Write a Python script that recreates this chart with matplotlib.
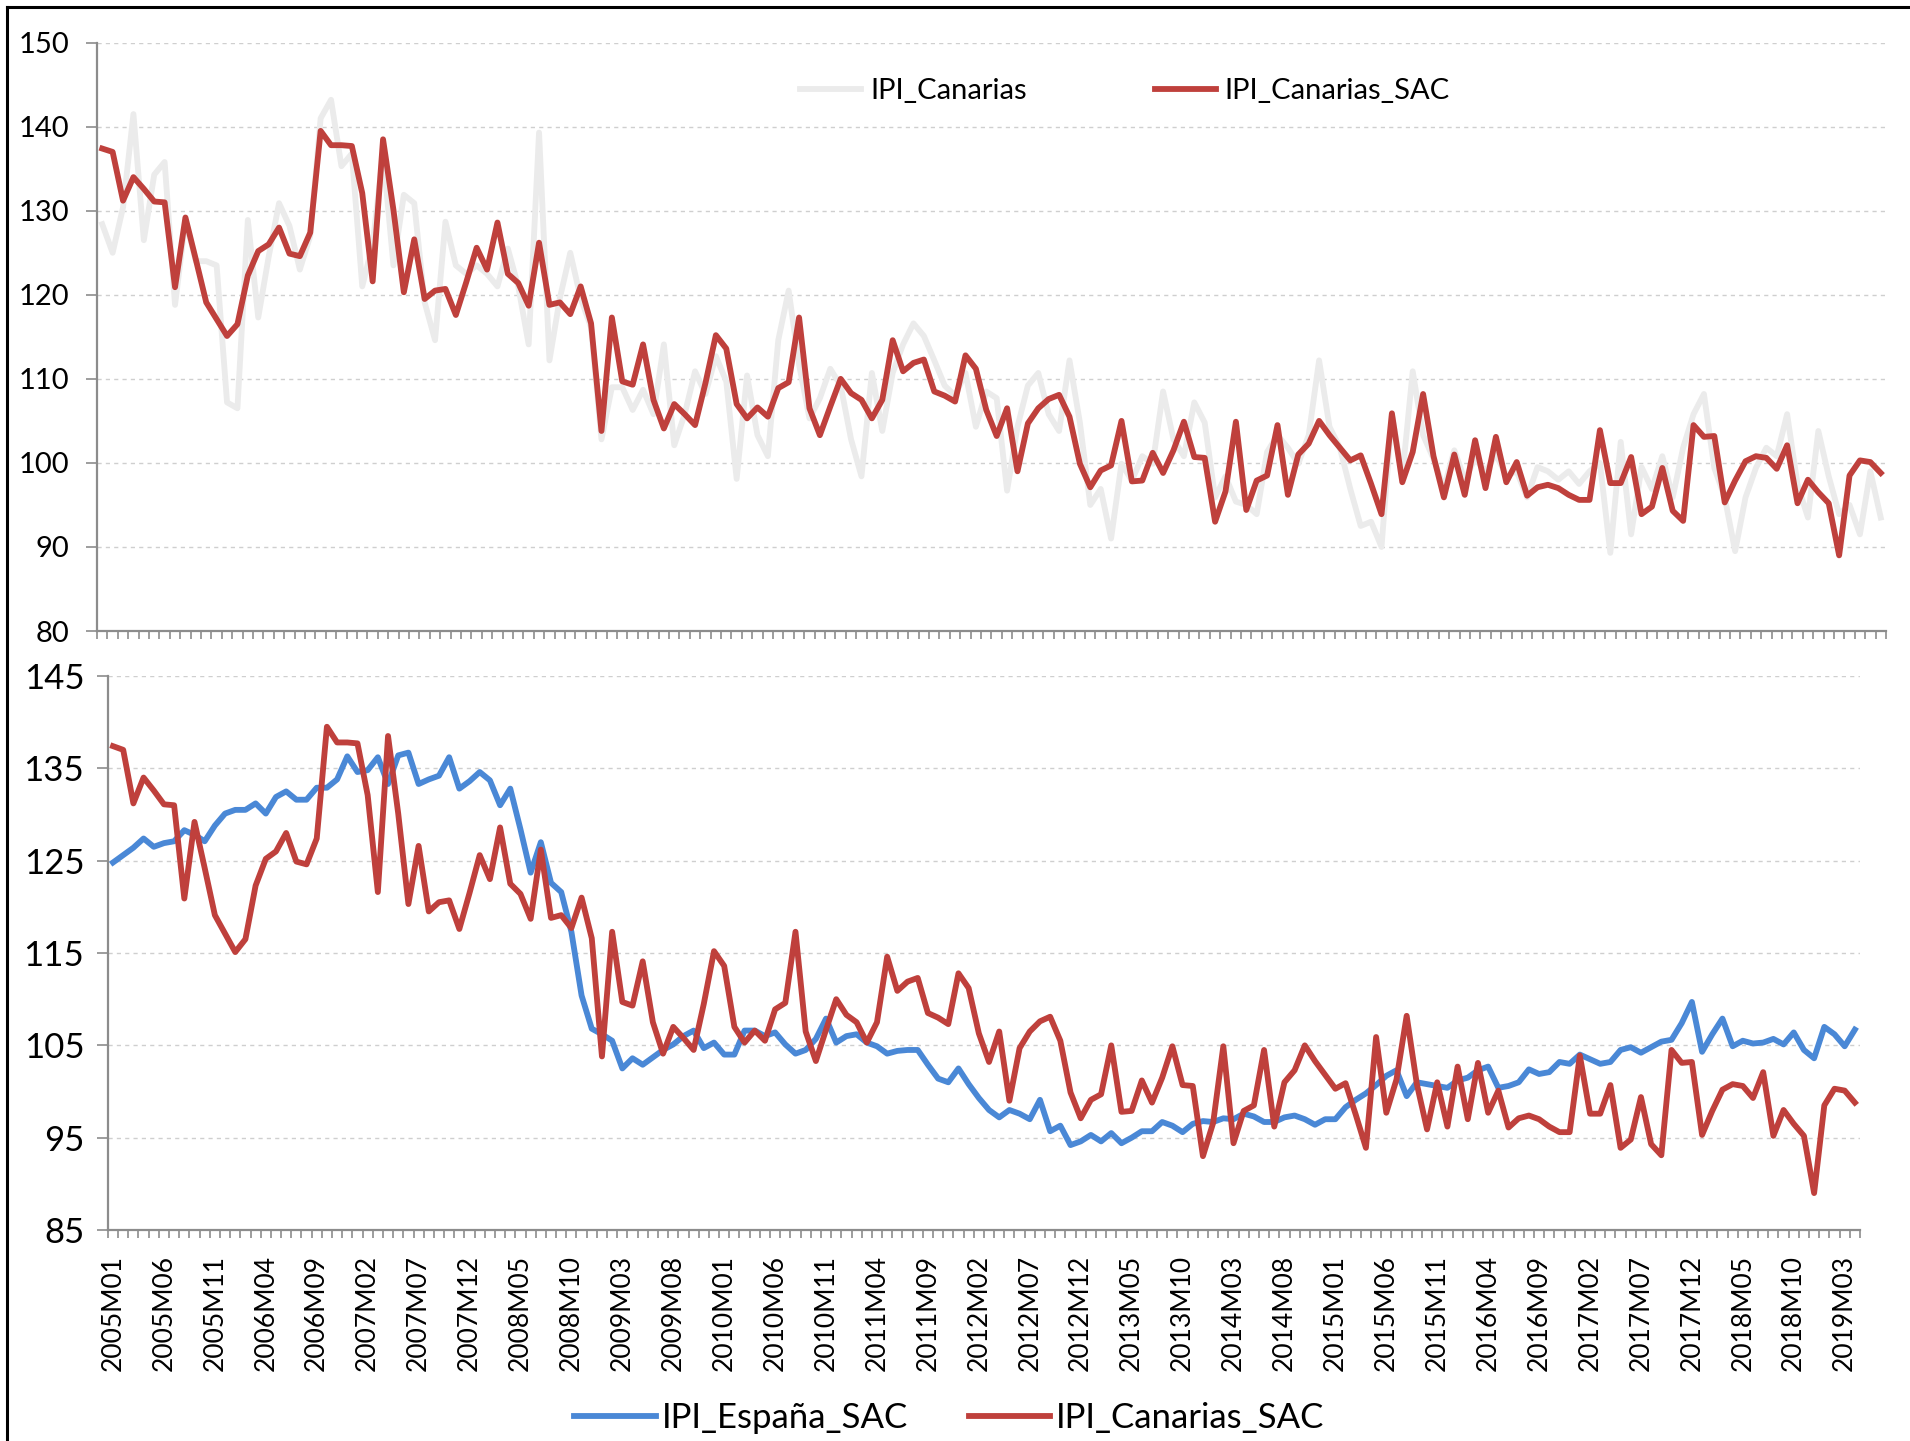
import matplotlib
matplotlib.use("Agg")
import matplotlib.pyplot as plt
from matplotlib.lines import Line2D
import numpy as np

plt.rcParams['font.family'] = ['Lato', 'DejaVu Sans']

# monthly data, 2005M01 .. 2019M04
ipi_canarias = [
    128.4, 125.0, 130.4, 141.5, 126.5, 134.3, 135.8, 118.8, 128.9, 124.0,
    124.0, 123.5, 107.2, 106.5, 128.9, 117.3, 124.5, 130.9, 128.2, 123.0,
    127.0, 141.0, 143.2, 135.3, 136.8, 121.0, 126.0, 136.8, 123.5, 131.9,
    130.9, 119.1, 114.6, 128.7, 123.5, 122.5, 123.5, 122.5, 121.0, 125.5,
    121.0, 114.1, 139.3, 112.2, 119.6, 125.0, 119.6, 116.1, 102.8, 109.0,
    109.0, 106.3, 108.7, 105.8, 114.1, 102.1, 105.8, 110.9, 108.2, 112.7,
    109.7, 98.1, 110.4, 103.3, 100.8, 114.6, 120.5, 111.7, 105.3, 107.7,
    111.2, 109.2, 102.8, 98.4, 110.7, 103.8, 110.7, 114.1, 116.6, 115.1,
    112.2, 109.2, 108.0, 110.7, 104.3, 108.5, 107.7, 96.7, 104.3, 109.2,
    110.7, 105.8, 103.8, 112.2, 104.8, 95.0, 96.9, 91.0, 99.9, 97.9,
    100.8, 99.9, 108.5, 102.8, 100.8, 107.2, 104.8, 95.9, 98.4, 95.4,
    95.0, 93.9, 101.3, 103.3, 101.8, 99.9, 103.3, 112.2, 104.3, 101.8,
    96.9, 92.5, 93.0, 90.0, 105.8, 98.4, 110.9, 103.3, 100.5, 97.0,
    101.5, 98.0, 100.5, 99.0, 101.0, 98.5, 99.0, 95.9, 99.5, 99.0,
    98.0, 99.0, 97.5, 99.0, 100.0, 89.3, 102.5, 91.5, 99.5, 96.9,
    100.8, 95.9, 101.8, 105.8, 108.2, 99.4, 95.9, 89.5, 95.9, 99.4,
    101.8, 100.8, 105.8, 97.4, 93.5, 103.8, 98.4, 93.9, 95.0, 91.5,
    99.0, 93.5,
]

ipi_canarias_sac = [
    137.4, 137.0, 131.2, 134.0, 132.6, 131.1, 131.0, 120.9, 129.2, 124.2,
    119.1, 117.1, 115.1, 116.5, 122.3, 125.2, 126.0, 128.0, 124.9, 124.6,
    127.4, 139.5, 137.8, 137.8, 137.7, 132.1, 121.6, 138.5, 130.1, 120.3,
    126.6, 119.5, 120.5, 120.7, 117.6, 121.5, 125.6, 123.0, 128.6, 122.5,
    121.4, 118.7, 126.2, 118.8, 119.1, 117.7, 121.0, 116.6, 103.8, 117.3,
    109.7, 109.3, 114.1, 107.5, 104.1, 107.0, 105.8, 104.5, 109.5, 115.2,
    113.6, 107.0, 105.3, 106.6, 105.5, 108.9, 109.6, 117.3, 106.5, 103.3,
    106.7, 110.0, 108.3, 107.5, 105.3, 107.5, 114.6, 110.9, 111.9, 112.3,
    108.5, 108.0, 107.3, 112.8, 111.2, 106.3, 103.2, 106.5, 99.0, 104.7,
    106.5, 107.6, 108.1, 105.5, 99.9, 97.1, 99.1, 99.7, 105.0, 97.8,
    97.9, 101.2, 98.8, 101.5, 104.9, 100.7, 100.6, 93.0, 96.6, 104.9,
    94.4, 97.9, 98.5, 104.5, 96.2, 101.0, 102.3, 105.0, 103.3, 101.8,
    100.3, 100.9, 97.5, 93.9, 105.9, 97.7, 101.3, 108.2, 100.8, 95.9,
    101.0, 96.2, 102.7, 97.0, 103.1, 97.7, 100.1, 96.1, 97.1, 97.4,
    97.0, 96.2, 95.6, 95.6, 103.9, 97.6, 97.6, 100.7, 93.9, 94.8,
    99.4, 94.3, 93.1, 104.5, 103.1, 103.2, 95.3, 97.9, 100.2, 100.8,
    100.6, 99.3, 102.1, 95.2, 98.0, 96.5, 95.2, 89.0, 98.5, 100.3,
    100.1, 98.8,
]

ipi_espana_sac = [
    124.8, 125.6, 126.4, 127.4, 126.5, 126.9, 127.1, 128.3, 127.8, 127.1,
    128.8, 130.1, 130.5, 130.5, 131.2, 130.1, 131.9, 132.5, 131.6, 131.6,
    132.9, 132.9, 133.8, 136.3, 134.6, 134.8, 136.2, 133.3, 136.4, 136.7,
    133.3, 133.8, 134.2, 136.2, 132.8, 133.6, 134.6, 133.7, 131.0, 132.8,
    128.4, 123.7, 127.0, 122.6, 121.6, 117.3, 110.4, 106.8, 106.2, 105.5,
    102.5, 103.6, 102.9, 103.7, 104.5, 105.1, 106.0, 106.6, 104.7, 105.3,
    104.0, 104.0, 106.6, 106.6, 106.0, 106.4, 105.1, 104.1, 104.5, 105.7,
    107.9, 105.3, 106.0, 106.2, 105.3, 104.9, 104.1, 104.4, 104.5, 104.5,
    102.9, 101.4, 101.0, 102.5, 100.8, 99.3, 98.0, 97.2, 98.0, 97.6,
    97.0, 99.1, 95.7, 96.3, 94.2, 94.6, 95.3, 94.6, 95.5, 94.4,
    95.0, 95.7, 95.7, 96.7, 96.3, 95.6, 96.5, 96.8, 96.7, 97.1,
    97.0, 97.6, 97.3, 96.7, 96.7, 97.2, 97.4, 97.0, 96.4, 97.0,
    97.0, 98.3, 99.1, 99.8, 100.7, 101.7, 102.3, 99.5, 101.0, 100.8,
    100.6, 100.4, 101.2, 101.5, 102.3, 102.7, 100.4, 100.6, 101.0, 102.4,
    101.9, 102.1, 103.2, 103.0, 104.0, 103.5, 103.0, 103.2, 104.5, 104.8,
    104.2, 104.8, 105.4, 105.6, 107.4, 109.7, 104.3, 106.2, 107.9, 104.9,
    105.5, 105.2, 105.3, 105.7, 105.1, 106.4, 104.5, 103.6, 107.0, 106.2,
    104.9, 106.7,
]

n = len(ipi_canarias_sac)
months = ["{}M{:02d}".format(2005 + i // 12, i % 12 + 1) for i in range(n)]
x = np.arange(n)

red = '#BF403C'
blue = '#4A88D6'
grey = '#EBEBEB'
axis_grey = '#8C8C8C'
lw = 4.2

fig = plt.figure(figsize=(19.1, 14.41), dpi=100)
ax1 = fig.add_axes([0.0508, 0.5621, 0.9366, 0.4083])
ax2 = fig.add_axes([0.0565, 0.1464, 0.9173, 0.3845])


def style_axis(ax, ymin, ymax, step, label_size):
    ax.set_xlim(-0.5, n - 0.5)
    ax.set_ylim(ymin, ymax)
    ax.set_yticks(np.arange(ymin, ymax + 1, step))
    for s in ['top', 'right']:
        ax.spines[s].set_visible(False)
    for s in ['left', 'bottom']:
        ax.spines[s].set_color(axis_grey)
        ax.spines[s].set_linewidth(1.6)
    ax.grid(axis='y', color='#CFCFCF', linestyle=(0, (3, 3)), linewidth=1)
    ax.set_axisbelow(True)
    ax.tick_params(axis='y', direction='out', length=8, width=1.2,
                   color=axis_grey, labelsize=label_size, pad=12)
    # category boundary ticks
    ax.set_xticks(np.arange(-0.5, n, 1), minor=True)
    ax.tick_params(axis='x', which='minor', direction='out', length=6,
                   width=1.2, color=axis_grey)


# top panel
style_axis(ax1, 80, 150, 10, 21)
ax1.plot(x, ipi_canarias, color=grey, lw=lw, label='IPI_Canarias')
ax1.plot(x, ipi_canarias_sac, color=red, lw=lw, label='IPI_Canarias_SAC')
ax1.set_xticks([])
ax1.legend(loc='center', bbox_to_anchor=(0.589, 0.937),
           bbox_transform=fig.transFigure, ncol=2, frameon=False,
           fontsize=21, handlelength=2.1, handletextpad=0.3,
           columnspacing=4.4)

# bottom panel
style_axis(ax2, 85, 145, 10, 25)
ax2.plot(x, ipi_espana_sac, color=blue, lw=lw, label='IPI_España_SAC')
ax2.plot(x, ipi_canarias_sac, color=red, lw=lw, label='IPI_Canarias_SAC')
ax2.set_xticks(x[::5])
ax2.set_xticklabels(months[::5], rotation=90, fontsize=19)
ax2.tick_params(axis='x', which='major', length=0, pad=18)
ax2.tick_params(axis='y', pad=9)
ax2.legend(loc='center', bbox_to_anchor=(0.497, 0.016),
           bbox_transform=fig.transFigure, ncol=2, frameon=False,
           fontsize=25, handlelength=2.35, handletextpad=0.17,
           columnspacing=1.75)

# frame around the picture
fig.add_artist(Line2D([0.0037, 1.0], [0.9951, 0.9951], color='black', lw=2.2,
                      transform=fig.transFigure))
fig.add_artist(Line2D([0.0037, 0.0037], [0.0, 0.9951], color='black', lw=2.2,
                      transform=fig.transFigure))

fig.savefig('out.png', dpi=100)
